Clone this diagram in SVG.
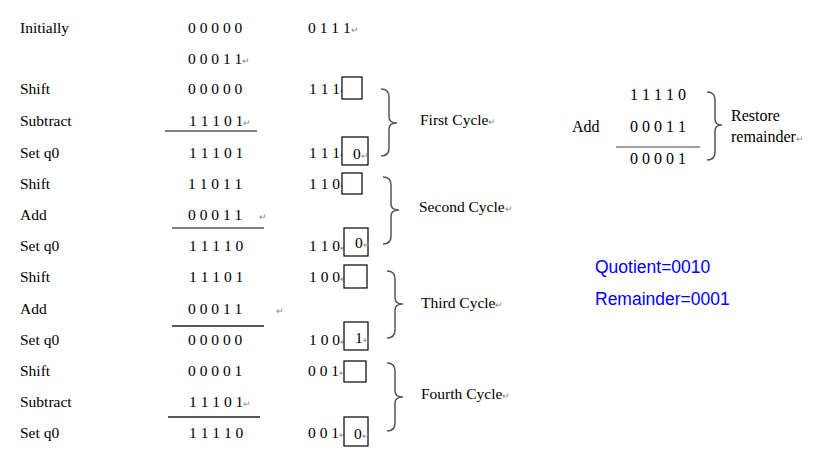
<svg xmlns="http://www.w3.org/2000/svg" width="817" height="459" viewBox="0 0 817 459">
<style>
text{font-family:"Liberation Serif","Times New Roman",serif;font-size:15.5px;fill:#000}
.m{font-size:9px;fill:#888}
.r{font-size:16px}
.blue{font-family:"Liberation Sans",Arial,sans-serif;font-size:17.5px;fill:#0000ff}
.box{fill:#fff;stroke:#000;stroke-width:1.2}
.ln{stroke:#555;stroke-width:1.6;fill:none}
.br{stroke:#555;stroke-width:1.5;fill:none}
</style>
<rect width="817" height="459" fill="#fff"/>

<g id="init">
<text x="20" y="33">Initially</text>
<text x="188" y="33">0 0 0 0 0</text>
<text x="308" y="33">0 1 1 1<tspan class="m">↵</tspan></text>
<text x="188" y="64">0 0 0 1 1<tspan class="m">↵</tspan></text>
</g>

<g id="cycle1">
<text x="20" y="94">Shift</text>
<text x="188" y="94">0 0 0 0 0</text>
<text x="309" y="94">1 1 1<tspan class="m">↵</tspan></text>
<rect class="box" x="342" y="77" width="20" height="22"/>
<text x="20" y="126">Subtract</text>
<text x="189" y="126">1 1 1 0 1<tspan class="m">↵</tspan></text>
<text x="20" y="158">Set q0</text>
<text x="189" y="158">1 1 1 0 1</text>
<text x="309" y="158">1 1 1<tspan class="m">↵</tspan></text>
<rect class="box" x="342" y="137" width="26" height="28"/>
<text x="353" y="159">0<tspan class="m">↵</tspan></text>
<text x="420" y="125">First Cycle<tspan class="m">↵</tspan></text>
</g>

<g id="cycle2">
<text x="20" y="189">Shift</text>
<text x="188" y="189">1 1 0 1 1</text>
<text x="309" y="189">1 1 0<tspan class="m">↵</tspan></text>
<rect class="box" x="342" y="173" width="20" height="21"/>
<text x="20" y="220">Add</text>
<text x="188" y="220">0 0 0 1 1</text>
<text x="259" y="220" class="m">↵</text>
<text x="20" y="251">Set q0</text>
<text x="189" y="251">1 1 1 1 0</text>
<text x="309" y="251">1 1 0<tspan class="m">↵</tspan></text>
<rect class="box" x="344" y="228" width="24" height="28"/>
<text x="355" y="248">0<tspan class="m">↵</tspan></text>
<text x="419" y="212">Second Cycle<tspan class="m">↵</tspan></text>
</g>

<g id="cycle3">
<text x="20" y="282">Shift</text>
<text x="189" y="282">1 1 1 0 1</text>
<text x="309" y="282">1 0 0<tspan class="m">↵</tspan></text>
<rect class="box" x="344" y="265" width="23" height="23"/>
<text x="20" y="314">Add</text>
<text x="188" y="314">0 0 0 1 1</text>
<text x="276" y="314" class="m">↵</text>
<text x="20" y="345">Set q0</text>
<text x="188" y="345">0 0 0 0 0</text>
<text x="309" y="345">1 0 0<tspan class="m">↵</tspan></text>
<rect class="box" x="344" y="322" width="24" height="28"/>
<text x="355" y="343">1<tspan class="m">↵</tspan></text>
<text x="421" y="308">Third Cycle<tspan class="m">↵</tspan></text>
</g>

<g id="cycle4">
<text x="20" y="376">Shift</text>
<text x="188" y="376">0 0 0 0 1</text>
<text x="308" y="376">0 0 1<tspan class="m">↵</tspan></text>
<rect class="box" x="344" y="361" width="22" height="21"/>
<text x="20" y="407">Subtract</text>
<text x="189" y="407">1 1 1 0 1<tspan class="m">↵</tspan></text>
<text x="20" y="438">Set q0</text>
<text x="189" y="438">1 1 1 1 0</text>
<text x="308" y="438">0 0 1<tspan class="m">↵</tspan></text>
<rect class="box" x="344" y="417" width="24" height="29"/>
<text x="354" y="439">0<tspan class="m">↵</tspan></text>
<text x="421" y="399">Fourth Cycle<tspan class="m">↵</tspan></text>
</g>

<g id="restore">
<text class="r" x="630" y="100">1 1 1 1 0</text>
<text class="r" x="572" y="132">Add</text>
<text class="r" x="630" y="132">0 0 0 1 1</text>
<text class="r" x="630" y="164">0 0 0 0 1</text>
<text class="r" x="731" y="121">Restore</text>
<text class="r" x="731" y="142">remainder<tspan class="m">↵</tspan></text>
</g>

<g id="result">
<text class="blue" x="595" y="273">Quotient=0010</text>
<text class="blue" x="595" y="305">Remainder=0001</text>
</g>

<g id="lines">
<line class="ln" x1="165" y1="131" x2="257" y2="131" style="stroke:#808080;stroke-width:2"/>
<line class="ln" x1="172" y1="228" x2="264" y2="228"/>
<line class="ln" x1="172" y1="326" x2="264" y2="326" style="stroke:#222"/>
<line class="ln" x1="168" y1="417" x2="260" y2="417" style="stroke:#222"/>
<line class="ln" x1="616" y1="147" x2="700" y2="147" style="stroke:#808080"/>
</g>

<g id="braces">
<path class="br" d="M381,89 Q389,89 389,97 L389,117 Q389,123 397,123 Q389,123 389,129 L389,148 Q389,156 381,156"/>
<path class="br" d="M383,177 Q391,177 391,185 L391,204 Q391,210 399,210 Q391,210 391,216 L391,236 Q391,244 383,244"/>
<path class="br" d="M387,271 Q395,271 395,279 L395,298 Q395,304 403,304 Q395,304 395,310 L395,330 Q395,338 387,338"/>
<path class="br" d="M387,363 Q395,363 395,371 L395,391 Q395,397 403,397 Q395,397 395,403 L395,423 Q395,431 387,431"/>
<path class="br" d="M707,92 Q715,92 715,100 L715,119 Q715,125 722,125 Q715,125 715,131 L715,152 Q715,160 707,160"/>
</g>
</svg>
